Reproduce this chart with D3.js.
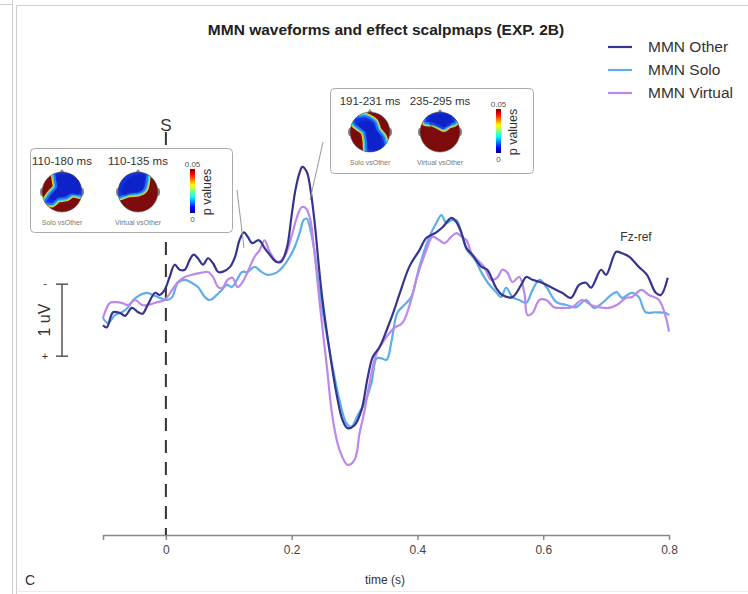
<!DOCTYPE html>
<html lang="en">
<head>
<meta charset="UTF-8">
<title>MMN waveforms and effect scalpmaps</title>
<script src="https://cdnjs.cloudflare.com/ajax/libs/d3/7.8.5/d3.min.js"></script>
<style>
  body { margin: 0; background: #fff; }
  svg text { font-family: "Liberation Sans", Arial, sans-serif; fill: #333; }
</style>
</head>
<body>
<script>
// time in ms, amplitude in uV (negative is drawn upward)
const otherT = [-100,-94,-84,-73,-65,-54,-44,-37,-29,-17,-10,-2,6,14,22,30,38,44,51,59,67,75,83,90,102,110,117,124,130,137,148,157,165,175,183,192,200,206,213,217,224,230,237,243,249,260,271,281,289,300,311,321,329,340,351,363,371,387,403,414,430,440,454,462,470,478,487,502,511,525,535,551,565,573,583,598,614,630,644,657,668,676,692,700,716,725,737,752,765,779,787,798];
const otherV = [0.35,0.38,0.17,0.18,0.22,0.11,0.17,0.19,0.07,-0.10,-0.07,-0.14,-0.32,-0.49,-0.42,-0.42,-0.56,-0.63,-0.58,-0.49,-0.58,-0.51,-0.39,-0.39,-0.46,-0.60,-0.83,-0.94,-0.88,-0.79,-0.83,-0.72,-0.63,-0.53,-0.53,-0.71,-1.18,-1.53,-1.78,-1.85,-1.78,-1.53,-1.04,-0.49,0.00,0.69,1.29,1.67,1.78,1.74,1.53,1.07,0.79,0.65,0.42,0.14,-0.07,-0.46,-0.69,-0.86,-0.94,-1.01,-1.14,-1.08,-0.93,-0.72,-0.63,-0.46,-0.42,-0.17,-0.07,-0.04,-0.21,-0.32,-0.28,-0.24,-0.17,-0.10,-0.03,-0.21,-0.24,-0.17,-0.42,-0.35,-0.67,-0.65,-0.60,-0.46,-0.35,-0.10,-0.07,-0.31];

const soloT = [-100,-92,-81,-70,-60,-52,-41,-30,-21,-10,2,10,19,30,41,51,62,70,81,89,97,105,113,121,130,141,152,162,176,186,197,205,213,219,224,230,237,243,249,256,265,276,287,295,305,316,327,335,343,351,359,368,379,390,403,419,430,438,446,454,462,470,479,490,502,511,525,533,541,551,562,573,583,594,605,621,637,652,668,681,694,708,717,725,741,752,763,779,795,800];
const soloV = [0.25,0.32,0.21,0.17,0.10,0.00,-0.07,-0.10,-0.07,-0.03,0.00,-0.04,-0.24,-0.28,-0.24,-0.18,-0.04,0.00,-0.07,-0.14,-0.21,-0.18,-0.28,-0.39,-0.39,-0.46,-0.39,-0.35,-0.38,-0.46,-0.60,-0.74,-0.94,-1.11,-1.13,-0.97,-0.63,-0.21,0.14,0.49,0.93,1.39,1.71,1.76,1.60,1.43,1.15,0.81,0.81,0.83,0.56,0.18,0.07,-0.04,-0.46,-0.88,-1.07,-1.18,-1.07,-1.11,-1.11,-0.93,-0.69,-0.58,-0.38,-0.25,-0.11,-0.04,-0.17,-0.04,0.00,0.04,-0.14,-0.28,-0.18,0.03,0.07,0.10,0.00,0.11,0.04,-0.07,-0.11,-0.03,-0.10,-0.04,0.17,0.17,0.18,0.21];

const virtualT = [-100,-89,-81,-70,-60,-49,-38,-29,-14,-2,10,19,30,41,57,67,75,83,90,98,106,114,122,130,141,149,157,165,178,189,200,208,216,222,229,235,240,244,256,265,276,289,300,308,316,324,335,351,363,376,390,398,414,424,435,443,454,462,470,478,486,495,506,517,527,535,543,551,562,570,575,583,594,605,617,630,646,662,676,689,705,717,732,741,756,768,784,795,800];
const virtualV = [0.25,0.04,0.03,0.04,0.07,0.00,0.07,0.07,0.03,0.00,-0.14,-0.25,-0.32,-0.35,-0.38,-0.39,-0.32,-0.18,-0.17,-0.28,-0.31,-0.18,-0.25,-0.39,-0.60,-0.69,-0.83,-0.67,-0.53,-0.61,-0.89,-1.14,-1.29,-1.28,-1.14,-0.76,-0.35,0.00,0.93,1.63,2.08,2.29,2.22,1.85,1.53,1.15,0.74,0.51,0.39,0.32,0.00,-0.28,-0.69,-0.88,-0.83,-0.79,-0.88,-0.93,-0.88,-0.83,-0.65,-0.56,-0.46,-0.28,-0.31,-0.42,-0.38,-0.25,-0.32,-0.10,0.21,0.18,0.00,0.00,0.10,0.11,0.10,0.00,0.07,0.10,0.11,0.07,-0.03,-0.04,-0.14,-0.07,0.00,0.24,0.44];

const seriesNames = ["MMN Other", "MMN Solo", "MMN Virtual"];
const xTicks = [-0.1, 0, 0.2, 0.4, 0.6, 0.8];
const xTickLabels = ["", "0", "0.2", "0.4", "0.6", "0.8"];

// scalp map insets
const mapWindows = ["110-180 ms", "110-135 ms", "191-231 ms", "235-295 ms"];
const mapContrasts = ["Solo vsOther", "Virtual vsOther", "Solo vsOther", "Virtual vsOther"];

const colors = ["#35348f", "#5eaee9", "#bd88ea"];
const W = 748, H = 594;

const svg = d3.select("body").append("svg")
  .attr("width", W).attr("height", H);

// panel frame
const frame = svg.append("g").attr("stroke", "#cfcfcf").attr("fill", "none");
frame.append("line").attr("x1", 12.5).attr("x2", 12.5).attr("y1", 0).attr("y2", H);
frame.append("line").attr("x1", 16.5).attr("x2", 16.5).attr("y1", 5).attr("y2", H);
frame.append("line").attr("x1", 0).attr("x2", 12.5).attr("y1", 4.5).attr("y2", 4.5);
frame.append("line").attr("x1", 16.5).attr("x2", W).attr("y1", 5.5).attr("y2", 5.5);
frame.append("line").attr("x1", 16.5).attr("x2", W).attr("y1", 591.5).attr("y2", 591.5).attr("stroke", "#ececec");

const x = d3.scaleLinear().domain([-0.1, 0.8]).range([103, 669]);
const y = d3.scaleLinear().domain([-2.5, 2.5]).range([120, 480]);

// title
svg.append("text").attr("x", 386).attr("y", 35)
  .attr("text-anchor", "middle").style("font-weight", "bold").style("font-size", "15.5px")
  .style("fill", "#222").text("MMN waveforms and effect scalpmaps (EXP. 2B)");

// x axis
const xAxis = d3.axisBottom(x).tickValues(xTicks)
  .tickFormat((d, i) => xTickLabels[i]).tickSize(5).tickSizeOuter(0).tickPadding(5);
const ax = svg.append("g").attr("transform", "translate(0,535)").call(xAxis);
ax.select(".domain").attr("stroke", "#888").attr("stroke-width", 1.5);
ax.selectAll(".tick line").attr("stroke", "#888").attr("stroke-width", 1.5);
ax.selectAll(".tick text").style("font-size", "12px").style("fill", "#444")
  .style("font-family", "'Liberation Sans', Arial, sans-serif");

svg.append("text").attr("x", 385).attr("y", 584).attr("text-anchor", "middle")
  .style("font-size", "12px").text("time (s)");
svg.append("text").attr("x", 30).attr("y", 585).attr("text-anchor", "middle")
  .style("font-size", "14px").text("C");

// stimulus onset
svg.append("line").attr("x1", x(0)).attr("x2", x(0)).attr("y1", 132).attr("y2", 535)
  .attr("stroke", "#333").attr("stroke-width", 2).attr("stroke-dasharray", "13,9");
svg.append("text").attr("x", x(0)).attr("y", 131).attr("text-anchor", "middle")
  .style("font-size", "17px").text("S");

// 1 uV scale bar
const sb = svg.append("g").attr("stroke", "#555").attr("stroke-width", 1.5);
sb.append("line").attr("x1", 62).attr("x2", 62).attr("y1", y(-0.22)).attr("y2", y(0.78));
sb.append("line").attr("x1", 56).attr("x2", 68).attr("y1", y(-0.22)).attr("y2", y(-0.22));
sb.append("line").attr("x1", 56).attr("x2", 68).attr("y1", y(0.78)).attr("y2", y(0.78));
svg.append("text").attr("transform", `translate(50,${(y(-0.22) + y(0.78)) / 2}) rotate(-90)`)
  .attr("text-anchor", "middle").style("font-size", "16px").text("1 uV");
svg.append("text").attr("x", 45).attr("y", y(-0.22) + 3).attr("text-anchor", "middle")
  .style("font-size", "11px").text("-");
svg.append("text").attr("x", 45).attr("y", y(0.78) + 4).attr("text-anchor", "middle")
  .style("font-size", "11px").text("+");

// waveforms
const line = d3.line().x(d => x(d[0] / 1000)).y(d => y(d[1])).curve(d3.curveCatmullRom.alpha(0.5));
const series = [
  d3.zip(otherT, otherV),
  d3.zip(soloT, soloV),
  d3.zip(virtualT, virtualV)
];
// draw order: solo, virtual, other on top
[1, 2, 0].forEach(i => {
  svg.append("path").datum(series[i]).attr("d", line)
    .attr("fill", "none").attr("stroke", colors[i]).attr("stroke-width", 2.2)
    .attr("stroke-linejoin", "round");
});

svg.append("text").attr("x", 636).attr("y", 241).attr("text-anchor", "middle")
  .style("font-size", "12px").text("Fz-ref");

// pointer lines from insets
svg.append("line").attr("x1", 237).attr("y1", 190).attr("x2", 244).attr("y2", 248)
  .attr("stroke", "#999").attr("stroke-width", 1);
svg.append("line").attr("x1", 323).attr("y1", 142).attr("x2", 310).attr("y2", 200)
  .attr("stroke", "#999").attr("stroke-width", 1);

// legend
const leg = svg.append("g");
seriesNames.forEach((n, i) => {
  const ly = 47 + i * 23;
  leg.append("line").attr("x1", 608).attr("x2", 632).attr("y1", ly).attr("y2", ly)
    .attr("stroke", colors[i]).attr("stroke-width", 2.2);
  leg.append("text").attr("x", 648).attr("y", ly + 5).style("font-size", "15.5px").text(n);
});

// jet colour gradient
const defs = svg.append("defs");
const grad = defs.append("linearGradient").attr("id", "jet")
  .attr("x1", 0).attr("y1", 1).attr("x2", 0).attr("y2", 0);
[["0%", "#00008f"], ["12%", "#0000ff"], ["37%", "#00ffff"], ["50%", "#80ff80"],
 ["63%", "#ffff00"], ["88%", "#ff0000"], ["100%", "#800000"]]
  .forEach(s => grad.append("stop").attr("offset", s[0]).attr("stop-color", s[1]));

// blue patch outlines on the unit head
const patches = [
  [[-0.3,-1.2],[1.2,-1.2],[1.2,0.15],[0.55,0.1],[0.2,0.3],[-0.2,0.35],[-0.5,0.6],[-0.85,0.5],[-0.6,0.1],[-0.3,-0.25],[-0.35,-0.65]],
  [[-1.2,-0.1],[-0.8,-0.85],[-0.2,-1.2],[0.45,-1.2],[0.42,-0.45],[0.3,-0.1],[0,0.05],[-0.5,0.1],[-0.95,0.25]],
  [[-0.75,-0.7],[-0.2,-0.78],[0.25,-0.5],[0.4,-0.1],[0.7,0.3],[0.8,1.2],[-0.1,1.2],[-0.2,0.5],[-0.3,0.0],[-0.8,-0.4]],
  [[-0.6,-1.2],[0.7,-1.2],[0.78,-0.5],[0.45,-0.35],[0.2,-0.18],[-0.05,-0.3],[-0.4,-0.45],[-0.75,-0.5]]
];

const patchLine = d3.line().curve(d3.curveCardinalClosed.tension(0.3));

function drawHead(g, cx, cy, r, k) {
  const id = "clip" + k;
  defs.append("clipPath").attr("id", id).append("circle").attr("cx", cx).attr("cy", cy).attr("r", r);
  // ears and nose
  g.append("ellipse").attr("cx", cx - r).attr("cy", cy).attr("rx", 2).attr("ry", 4).attr("fill", "#888");
  g.append("ellipse").attr("cx", cx + r).attr("cy", cy).attr("rx", 2).attr("ry", 4).attr("fill", "#888");
  g.append("path").attr("d", `M${cx - 3},${cy - r + 1}L${cx},${cy - r - 3}L${cx + 3},${cy - r + 1}Z`).attr("fill", "#888");
  const h = g.append("g").attr("clip-path", `url(#${id})`);
  h.append("circle").attr("cx", cx).attr("cy", cy).attr("r", r).attr("fill", "#7d0b0b");
  const pts = patches[k].map(p => [cx + p[0] * r, cy + p[1] * r]);
  const d = patchLine(pts);
  h.append("path").attr("d", d).attr("fill", "none").attr("stroke", "#e8d020").attr("stroke-width", 7);
  h.append("path").attr("d", d).attr("fill", "none").attr("stroke", "#30d0f0").attr("stroke-width", 4.5);
  h.append("path").attr("d", d).attr("fill", "#1030e0").attr("stroke", "#2a70f0").attr("stroke-width", 2);
  h.append("path").attr("d", d)
    .attr("transform", `translate(${cx},${cy}) scale(0.7) translate(${-cx},${-cy})`)
    .attr("fill", "#0a14b0").attr("opacity", 0.5);
  g.append("circle").attr("cx", cx).attr("cy", cy).attr("r", r).attr("fill", "none")
    .attr("stroke", "#555").attr("stroke-width", 0.6);
}

function drawInset(bx, by, bw, bh, hx, k0, cbx) {
  const g = svg.append("g");
  g.append("rect").attr("x", bx + 0.5).attr("y", by + 0.5).attr("width", bw).attr("height", bh)
    .attr("rx", 4).attr("fill", "#fff").attr("stroke", "#aaa").attr("stroke-width", 1);
  hx.forEach((cx, j) => {
    const k = k0 + j;
    g.append("text").attr("x", cx).attr("y", by + 17).attr("text-anchor", "middle")
      .style("font-size", "11.5px").text(mapWindows[k]);
    drawHead(g, cx, by + 44, 20, k);
    g.append("text").attr("x", cx).attr("y", by + 77).attr("text-anchor", "middle")
      .style("font-size", "7px").style("fill", "#777").text(mapContrasts[k]);
  });
  g.append("rect").attr("x", cbx).attr("y", by + 21).attr("width", 5).attr("height", 44)
    .attr("fill", "url(#jet)");
  g.append("text").attr("x", cbx + 2.5).attr("y", by + 19).attr("text-anchor", "middle")
    .style("font-size", "8px").style("fill", "#555").text("0.05");
  g.append("text").attr("x", cbx + 2.5).attr("y", by + 74).attr("text-anchor", "middle")
    .style("font-size", "8px").style("fill", "#555").text("0");
  g.append("text").attr("transform", `translate(${cbx + 21},${by + 44}) rotate(-90)`)
    .attr("text-anchor", "middle").style("font-size", "12.5px").text("p values");
}

drawInset(30, 148, 202, 84, [62, 138], 0, 190);
drawInset(330, 88, 203, 85, [370, 440], 2, 496);
</script>
</body>
</html>
